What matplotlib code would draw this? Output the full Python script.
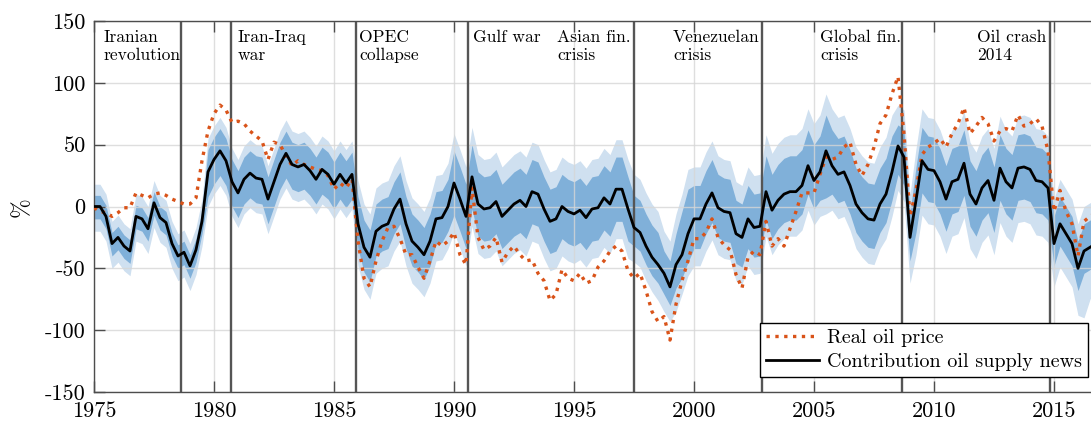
import numpy as np
import matplotlib.pyplot as plt

plt.rcParams['font.family'] = 'cmr10'
plt.rcParams['mathtext.fontset'] = 'cm'
plt.rcParams['axes.unicode_minus'] = False
plt.rcParams['axes.formatter.use_mathtext'] = True

# quarterly values, one row per year (1975 ... 2016)
supply = [0, 0, -8, -30,  -25, -32, -36, -8,  -10, -18, 3, -9,  -13, -30, -40, -37,
          -48, -35, -12, 28,  38, 45, 37, 20,  11, 22, 27, 23,  22, 6, 20, 34,
          43, 34, 32, 34,  29, 22, 30, 26,  18, 26, 19, 26,  -14, -33, -41, -20,
          -16, -14, -2, 6,  -14, -28, -33, -39,  -28, -10, -9, 0,  19, 6, -8, 24,
          2, -2, -1, 4,  -8, -3, 2, 5,  0, 12, 10, -2,  -12, -10, 0, -4,
          -6, -3, -9, -2,  -1, 7, 2, 14,  14, -2, -17, -21,  -32, -41, -47, -54,
          -65, -47, -39, -22,  -10, -10, 2, 11,  -1, -4, -5, -22,  -25, -10, -17, -16,
          12, -3, 5, 10,  12, 12, 17, 33,  21, 28, 45, 33,  26, 28, 17, 2,
          -5, -10, -11, 2,  10, 28, 49, 40,  -25, 5, 37, 30,  29, 20, 6, 20,
          22, 35, 10, 2,  15, 21, 5, 31,  20, 15, 31, 32,  30, 21, 20, 15,
          -30, -14, -22, -30,  -50, -36, -33, -30]

price = [-1, -4, -5, -8,  -5, -1, -1, 11,  9, 7, 10, 11,  9, 6, 4, 2,
         2, 7, 37, 61,  75, 82, 78, 68,  69, 67, 61, 57,  53, 38, 52, 50,
         41, 33, 37, 34,  32, 30, 29, 25,  14, 19, 15, 22,  -28, -58, -65, -44,
         -28, -17, -16, -26,  -39, -39, -49, -58,  -44, -28, -32, -28,  -21, -39, -47, 15,
         -25, -35, -32, -25,  -45, -37, -32, -39,  -44, -43, -54, -60,  -76, -71, -51, -58,
         -60, -54, -62, -60,  -49, -44, -36, -32,  -36, -52, -58, -54,  -68, -85, -93, -89,
         -108, -79, -60, -44,  -26, -26, -21, -10,  -25, -31, -35, -55,  -66, -41, -36, -39,
         -12, -32, -26, -32,  -18, -4, 11, 11,  11, 26, 40, 38,  40, 48, 52, 34,
         25, 34, 48, 67,  74, 91, 105, 59,  -8, 13, 42, 48,  51, 55, 48, 59,
         67, 80, 59, 65,  72, 67, 53, 61,  63, 61, 74, 65,  67, 71, 65, 45,
         -4, 13, -4, -14,  -40, -12, -8, -5]

# error bands (90% light, 68% dark)
hi90 = [18, 18, 10, -12,  -7, -14, -18, 10,  8, 0, 21, 9,  5, -12, -22, -19,
        -30, -17, 6, 55,  65, 72, 64, 47,  38, 49, 54, 50,  49, 33, 47, 61,
        70, 61, 59, 61,  56, 49, 57, 53,  45, 53, 46, 53,  21, 2, -6, 15,
        19, 21, 33, 41,  21, 7, 2, -4,  7, 25, 26, 35,  59, 46, 32, 64,
        42, 38, 39, 44,  32, 37, 42, 45,  40, 52, 50, 38,  28, 30, 40, 36,
        34, 37, 31, 38,  39, 47, 42, 54,  54, 38, 26, 22,  11, 2, -4, -20,
        -28, -6, 10, 30,  32, 32, 44, 53,  41, 38, 37, 20,  17, 32, 25, 26,
        58, 43, 51, 56,  58, 58, 63, 79,  67, 74, 91, 79,  72, 74, 63, 48,
        41, 36, 35, 48,  56, 74, 82, 78,  10, 47, 79, 72,  71, 62, 48, 62,
        64, 77, 52, 44,  57, 63, 47, 73,  62, 57, 73, 74,  72, 63, 62, 57,
        6, 22, 14, 6,  -14, 0, 3, 6]

hi68 = [9, 9, 1, -21,  -16, -23, -27, 1,  -1, -9, 12, 0,  -4, -21, -31, -28,
        -39, -26, -3, 46,  56, 63, 55, 38,  29, 40, 45, 41,  40, 24, 38, 52,
        61, 52, 50, 52,  47, 40, 48, 44,  36, 44, 37, 44,  8, -11, -19, 2,
        6, 8, 20, 28,  8, -6, -11, -17,  -6, 12, 13, 22,  45, 32, 18, 50,
        28, 24, 25, 30,  18, 23, 28, 31,  26, 38, 36, 24,  14, 16, 26, 22,
        20, 23, 17, 24,  25, 33, 28, 40,  40, 24, 9, 5,  -6, -15, -21, -36,
        -44, -22, -4, 14,  17, 17, 29, 38,  26, 23, 22, 5,  2, 17, 10, 11,
        41, 26, 34, 39,  41, 41, 46, 62,  50, 57, 74, 62,  55, 57, 46, 31,
        24, 19, 18, 31,  39, 57, 66, 62,  -5, 32, 64, 57,  56, 47, 33, 47,
        49, 62, 37, 29,  42, 48, 32, 58,  47, 42, 58, 59,  57, 48, 47, 42,
        -8, 8, 0, -8,  -28, -14, -11, -8]

lo68 = [-10, -10, -18, -40,  -35, -42, -46, -18,  -20, -28, -7, -19,  -23, -40, -50, -47,
        -58, -45, -22, 8,  18, 25, 17, 0,  -9, 2, 7, 3,  2, -14, 0, 14,
        23, 14, 12, 14,  9, 2, 10, 6,  -2, 6, -1, 6,  -34, -53, -61, -40,
        -36, -34, -22, -14,  -34, -48, -53, -59,  -48, -30, -29, -20,  -7, -20, -34, -2,
        -24, -28, -27, -22,  -34, -29, -24, -21,  -26, -14, -16, -28,  -38, -36, -26, -30,
        -32, -29, -35, -28,  -27, -19, -24, -12,  -12, -28, -32, -36,  -47, -56, -62, -71,
        -80, -66, -58, -45,  -34, -34, -22, -13,  -25, -28, -29, -46,  -49, -34, -41, -40,
        -11, -26, -18, -13,  -11, -11, -6, 10,  -2, 5, 7, 10,  3, 5, -6, -21,
        -28, -33, -34, -21,  -13, 5, 26, 17,  -44, -21, 11, 4,  3, -6, -20, -6,
        -4, 9, -16, -24,  -11, -5, -21, 5,  -6, -11, 5, 6,  4, -5, -6, -11,
        -48, -32, -40, -48,  -68, -54, -51, -48]

lo90 = [-20, -20, -28, -50,  -45, -52, -56, -28,  -30, -38, -17, -29,  -33, -50, -60, -57,
        -68, -55, -32, 0,  10, 17, 9, -8,  -17, -6, -1, -5,  -6, -22, -8, 6,
        15, 6, 4, 6,  1, -6, 2, -2,  -10, -2, -9, -2,  -48, -67, -75, -54,
        -50, -48, -36, -28,  -48, -62, -67, -73,  -62, -44, -43, -34,  -21, -34, -48, -16,
        -38, -42, -41, -36,  -48, -43, -38, -35,  -40, -28, -30, -42,  -52, -50, -40, -44,
        -46, -43, -49, -42,  -41, -33, -38, -26,  -26, -42, -45, -49,  -60, -69, -76, -85,
        -93, -85, -71, -56,  -48, -48, -36, -27,  -39, -42, -43, -60,  -63, -48, -55, -54,
        -24, -39, -31, -26,  -24, -24, -19, -3,  -15, -8, -6, -3,  -10, -8, -19, -34,
        -41, -46, -47, -34,  -26, -8, 13, 4,  -62, -39, -7, -14,  -15, -24, -38, -24,
        -22, -9, -34, -42,  -29, -23, -39, -13,  -24, -29, -13, -12,  -14, -23, -24, -29,
        -65, -49, -57, -65,  -88, -90, -75, -65]

events = [1978.62, 1980.72, 1985.92, 1990.58, 1997.5, 2002.83, 2008.67, 2014.85]
event_labels = ['Iranian\nrevolution', 'Iran-Iraq\nwar', 'OPEC\ncollapse', 'Gulf war',
                'Asian fin.\ncrisis', 'Venezuelan\ncrisis', 'Global fin.\ncrisis', 'Oil crash\n2014']
label_x = [1975.38, 1981.0, 1986.04, 1990.8, 1994.3, 1999.12, 2005.25, 2011.8]

years = 1975 + 0.25 * np.arange(len(supply))

fig = plt.figure(figsize=(10.91, 4.21), dpi=100)
ax = fig.add_axes([94 / 1091, 29 / 421, 1008 / 1091, 371 / 421])

ax.fill_between(years, lo90, hi90, color='#cfe0f0', lw=0, zorder=1)
ax.fill_between(years, lo68, hi68, color='#80b0d9', lw=0, zorder=1.2)

for e in events:
    ax.axvline(e, color='#555555', lw=1.7, zorder=2)

ax.plot(years, price, color='#D95319', ls=':', lw=2.4, zorder=3, label='Real oil price')
ax.plot(years, supply, color='black', lw=2, zorder=4, label='Contribution oil supply news')

for x, t in zip(label_x, event_labels):
    ax.text(x, 143, t, fontsize=12.6, va='top', ha='left', linespacing=1.25, zorder=5)

ax.set_xlim(1975, 2017)
ax.set_ylim(-150, 150)
xt = list(range(1975, 2016, 5))
ax.set_xticks(xt)
ax.set_xticklabels([str(v) for v in xt])
yt = list(range(-150, 151, 50))
ax.set_yticks(yt)
ax.set_yticklabels([str(v) for v in yt])
ax.tick_params(direction='in', length=8, width=1, top=True, right=True,
               color='#4d4d4d', labelsize=16)
ax.tick_params(axis='x', pad=7)
ax.tick_params(axis='y', pad=6)
for sp in ax.spines.values():
    sp.set_color('#4d4d4d')
    sp.set_linewidth(1)

ax.set_axisbelow('line')
ax.grid(True, color='#d6d6d6', lw=1, alpha=0.8)

fig.text(22 / 1091, 1 - 207 / 421, '%', rotation=90, va='center', ha='center', fontsize=17)

leg = ax.legend(loc='lower right', bbox_to_anchor=(0.986, 0.04), borderaxespad=0,
                fontsize=14.5, handlelength=2.6, fancybox=False, framealpha=1,
                edgecolor='black', borderpad=0.3, labelspacing=0.3, handletextpad=0.4)
leg.get_frame().set_linewidth(1)
leg.set_zorder(6)

fig.savefig('out.png', dpi=100)
